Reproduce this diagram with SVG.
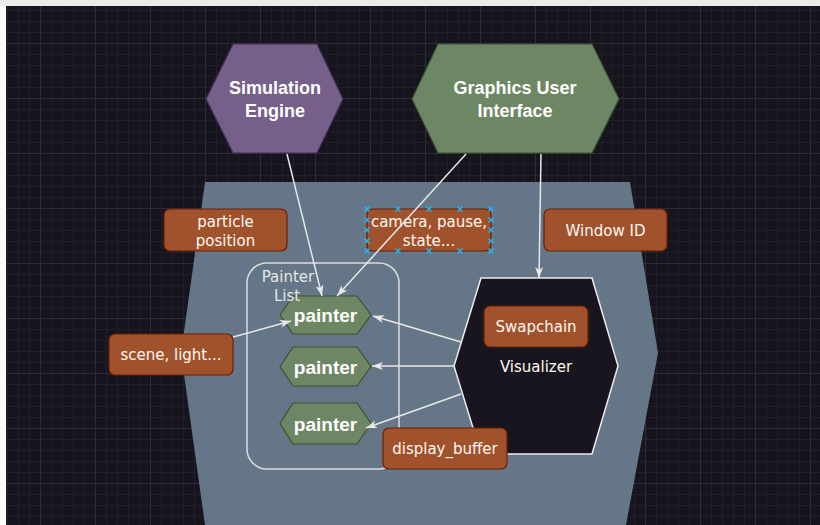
<svg xmlns="http://www.w3.org/2000/svg" width="820" height="525" viewBox="0 0 820 525">
  <defs>
    <pattern id="minorGrid" patternUnits="userSpaceOnUse" x="7" y="10" width="11" height="11">
      <path d="M0.5,0 V11 M0,0.5 H11" fill="none" stroke="#201e28" stroke-width="1"/>
    </pattern>
    <pattern id="majorGrid" patternUnits="userSpaceOnUse" x="40" y="43" width="55" height="55">
      <path d="M0.5,0 V55 M0,0.5 H55" fill="none" stroke="#2d2b34" stroke-width="1"/>
    </pattern>
    <marker id="arrow" markerUnits="userSpaceOnUse" viewBox="0 0 11 8" refX="11" refY="4" markerWidth="11" markerHeight="8" orient="auto">
      <path d="M0,0 L11,4 L0,8 L3,4 Z" fill="#e8e8e8"/>
    </marker>
    <g id="xmark">
      <path d="M-2.5,-2.5 L2.5,2.5 M-2.5,2.5 L2.5,-2.5" stroke="#2ab0e8" stroke-width="1.6"/>
    </g>
  </defs>
  <style>
    .hexText { font-family: "Liberation Sans", "DejaVu Sans", sans-serif; font-weight: bold; font-size: 18px; fill: #ffffff; text-anchor: middle; }
    .painterText { font-family: "Liberation Sans", "DejaVu Sans", sans-serif; font-weight: bold; font-size: 19px; fill: #ffffff; text-anchor: middle; }
    .label rect { fill: #a0522d; stroke: #6d1f00; stroke-width: 1.2; }
    .labelText { font-family: "DejaVu Sans", "Liberation Sans", sans-serif; font-size: 15px; fill: #fff8f0; text-anchor: middle; }
    .listText { font-family: "DejaVu Sans", "Liberation Sans", sans-serif; font-size: 15px; fill: #e6e6e6; text-anchor: middle; }
    .painter polygon { fill: #6d8764; stroke: #3a5431; stroke-width: 1.2; }
    .edge { fill: none; stroke: #e8e8e8; stroke-width: 1.5; marker-end: url(#arrow); }
  </style>

  <!-- page frame and canvas -->
  <rect x="0" y="0" width="820" height="525" fill="#fafafa"/>
  <rect x="0" y="0" width="820" height="6" fill="#ebebeb"/>
  <rect x="6" y="6" width="814" height="519" fill="#16141c"/>
  <rect x="6" y="6" width="814" height="519" fill="url(#minorGrid)"/>
  <rect x="6" y="6" width="814" height="519" fill="url(#majorGrid)"/>

  <!-- application container -->
  <g id="container">
    <polygon points="181,353 205,182 630,182 658,353 626,525 205,525" fill="#647687"/>
  </g>

  <g id="simulation-engine">
    <polygon points="206,99 233,44 317,44 343,99 317,153 233,153" fill="#76608a" stroke="#432d57" stroke-width="1.2"/>
    <text class="hexText" x="275" y="94">Simulation</text>
    <text class="hexText" x="275" y="117">Engine</text>
  </g>

  <g id="gui">
    <polygon points="412,99 438,44 592,44 619,99 592,153 438,153" fill="#6d8764" stroke="#3a5431" stroke-width="1.2"/>
    <text class="hexText" x="515" y="94">Graphics User</text>
    <text class="hexText" x="515" y="117">Interface</text>
  </g>

  <g id="painter-list">
    <rect x="247" y="263" width="152" height="206" rx="20" ry="20" fill="none" stroke="#dcdcdc" stroke-width="1.5"/>
  </g>

  <g id="painter-1" class="painter" transform="translate(325.5,315)">
    <polygon points="-45.5,0 -32.5,-19 31.5,-19 45.5,0 31.5,19 -32.5,19"/>
    <text class="painterText" x="0" y="7">painter</text>
  </g>
  <g id="painter-2" class="painter" transform="translate(325.5,366.5)">
    <polygon points="-45.5,0 -32.5,-19.5 31.5,-19.5 45.5,0 31.5,19.5 -32.5,19.5"/>
    <text class="painterText" x="0" y="7">painter</text>
  </g>
  <g id="painter-3" class="painter" transform="translate(325.5,423.5)">
    <polygon points="-45.5,0 -32.5,-20.5 31.5,-20.5 45.5,0 31.5,20.5 -32.5,20.5"/>
    <text class="painterText" x="0" y="7">painter</text>
  </g>

  <!-- list title sits in front of the first painter -->
  <g id="painter-list-title">
    <text class="listText" x="288" y="282">Painter</text>
    <text class="listText" x="287" y="301">List</text>
  </g>

  <g id="visualizer">
    <polygon points="454,366 481,278 592,278 618,366 592,454 481,454" fill="#18151e" stroke="#ececec" stroke-width="1.5"/>
    <text class="labelText" x="536" y="372">Visualizer</text>
  </g>

  <!-- data labels -->
  <g id="label-particle" class="label">
    <rect x="164" y="209" width="123" height="42" rx="6" ry="6"/>
    <text class="labelText" x="225.5" y="227">particle</text>
    <text class="labelText" x="225.5" y="246">position</text>
  </g>
  <g id="label-camera" class="label">
    <rect x="367" y="209" width="124" height="42" rx="6" ry="6"/>
    <text class="labelText" x="429" y="227" font-size="14">camera, pause,</text>
    <text class="labelText" x="429" y="246" font-size="14">state...</text>
  </g>
  <g id="label-window" class="label">
    <rect x="544" y="209" width="123" height="42" rx="6" ry="6"/>
    <text class="labelText" x="605.5" y="236">Window ID</text>
  </g>
  <g id="label-scene" class="label">
    <rect x="109" y="334" width="124" height="41" rx="6" ry="6"/>
    <text class="labelText" x="171" y="360">scene, light...</text>
  </g>
  <g id="label-swapchain" class="label">
    <rect x="484" y="306" width="104" height="41" rx="6" ry="6"/>
    <text class="labelText" x="536" y="332">Swapchain</text>
  </g>
  <g id="label-display" class="label">
    <rect x="383" y="428" width="124" height="41" rx="6" ry="6"/>
    <text class="labelText" x="445" y="454">display_buffer</text>
  </g>

  <!-- connectors -->
  <g id="connectors">
    <path class="edge" d="M287,154 L322,296"/>
    <path class="edge" d="M466,154 L337,296"/>
    <path class="edge" d="M541,154 L539,278"/>
    <path class="edge" d="M233,337 L291,321"/>
    <path class="edge" d="M461,342 L373,316"/>
    <path class="edge" d="M454,366 L372,366"/>
    <path class="edge" d="M461,394 L366,428"/>
  </g>

  <!-- selection handles around the camera label -->
  <g id="selection-handles">
    <use href="#xmark" x="367" y="209"/><use href="#xmark" x="398" y="209"/><use href="#xmark" x="429" y="209"/><use href="#xmark" x="460" y="209"/><use href="#xmark" x="491" y="209"/>
    <use href="#xmark" x="367" y="251"/><use href="#xmark" x="398" y="251"/><use href="#xmark" x="429" y="251"/><use href="#xmark" x="460" y="251"/><use href="#xmark" x="491" y="251"/>
    <use href="#xmark" x="367" y="220"/><use href="#xmark" x="367" y="230"/><use href="#xmark" x="367" y="241"/>
    <use href="#xmark" x="491" y="220"/><use href="#xmark" x="491" y="230"/><use href="#xmark" x="491" y="241"/>
  </g>
</svg>
